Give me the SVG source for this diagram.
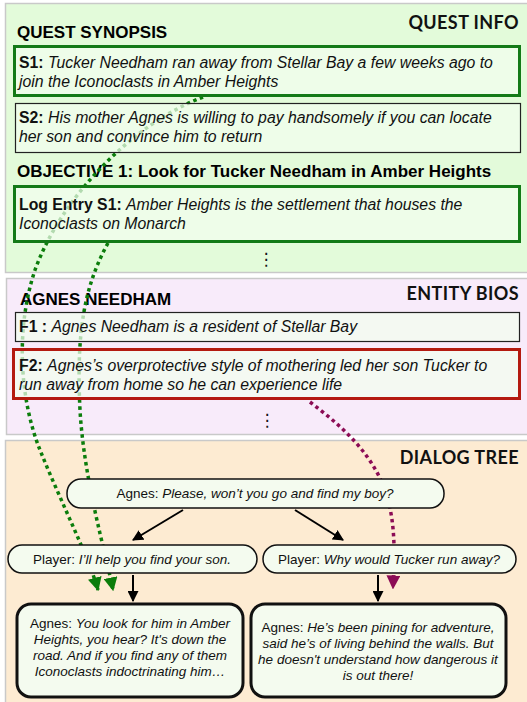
<svg xmlns="http://www.w3.org/2000/svg" width="527" height="702" viewBox="0 0 527 702">
<defs>
<style>
.panel{stroke:#c9c9c9;stroke-width:1.5}
.title{font-family:Lato,"Liberation Sans",sans-serif;font-size:18px;font-weight:bold;fill:#111;text-anchor:end;letter-spacing:0.4px}
.head{font-family:"Liberation Sans",Arial,sans-serif;font-size:17px;font-weight:bold;fill:#000}
.body{font-family:"Liberation Sans",Arial,sans-serif;font-size:15.8px;fill:#111}
.dlg{font-family:"Liberation Sans",Arial,sans-serif;font-size:13.5px;fill:#111;text-anchor:middle}
.b{font-weight:bold;font-style:normal}
.i{font-style:italic}
.box{fill:#f3fdef;fill-opacity:0.72}
.gbox{stroke:#137a17;stroke-width:3}
.kbox{stroke:#222;stroke-width:1.2}
.rbox{stroke:#b41a10;stroke-width:3}
.node{fill:#f4fbef;stroke:#111;stroke-width:1.5}
.bnode{fill:#f4fbef;stroke:#111;stroke-width:3}
.gdot{fill:none;stroke:#0b7d0b;stroke-width:3.5;stroke-dasharray:3.5 3.5}
.mdot{fill:none;stroke:#8c0c55;stroke-width:3.5;stroke-dasharray:3.5 3.5}
.arr{stroke:#000;stroke-width:2}
.dots{font-family:"DejaVu Sans",sans-serif;font-size:17px;fill:#111;text-anchor:middle}
</style>
<marker id="ak" viewBox="0 0 10 10" refX="9" refY="5" markerWidth="11" markerHeight="11" markerUnits="userSpaceOnUse" orient="auto"><path d="M0,0 L10,5 L0,10 z" fill="#000"/></marker>
<marker id="ag" viewBox="0 0 10 10" refX="9" refY="5" markerWidth="14" markerHeight="14" markerUnits="userSpaceOnUse" orient="auto"><path d="M0,0 L10,5 L0,10 z" fill="#0b7d0b"/></marker>
<marker id="am" viewBox="0 0 10 10" refX="9" refY="5" markerWidth="14" markerHeight="14" markerUnits="userSpaceOnUse" orient="auto"><path d="M0,0 L10,5 L0,10 z" fill="#8c0c55"/></marker>
</defs>

<g id="panel-quest-info">
<rect class="panel" x="5.5" y="3.5" width="525" height="269" fill="#e3fbda"/>
<text class="title" x="519" y="29">QUEST INFO</text>
<text class="head" x="17" y="38">QUEST SYNOPSIS</text>
<text class="head" x="17" y="177">OBJECTIVE 1: Look for Tucker Needham in Amber Heights</text>
</g>
<g id="panel-entity-bios">
<rect class="panel" x="6.5" y="278.5" width="525" height="156" fill="#f8ebfa"/>
<text class="title" x="519" y="300">ENTITY BIOS</text>
<text class="head" x="20" y="305">AGNES NEEDHAM</text>
</g>
<g id="panel-dialog-tree">
<rect class="panel" x="5.5" y="440.5" width="525" height="265" fill="#fdebd2"/>
<text class="title" x="519" y="464">DIALOG TREE</text>
</g>

<g id="connectors">
<path class="gdot" d="M203,97 C130,125 60,200 35,270 C15,330 20,400 40,450 C60,500 90,560 98,590" marker-end="url(#ag)"/>
<path class="gdot" d="M108,243 C85,285 76,330 80,410 C84,480 105,550 113,590" marker-end="url(#ag)"/>
<path class="mdot" d="M310,402 C340,425 370,450 385,490 C397,525 394,560 393,588" marker-end="url(#am)"/>
<line class="arr" x1="183" y1="510" x2="133" y2="540" marker-end="url(#ak)"/>
<line class="arr" x1="295" y1="510" x2="343" y2="540" marker-end="url(#ak)"/>
<line class="arr" x1="133" y1="575" x2="133" y2="601" marker-end="url(#ak)"/>
<line class="arr" x1="378" y1="575" x2="378" y2="601" marker-end="url(#ak)"/>
</g>

<g id="s1">
<rect class="box gbox" x="14.5" y="46.5" width="505" height="49"/>
<text class="body" x="19" y="68"><tspan class="b">S1: </tspan><tspan class="i">Tucker Needham ran away from Stellar Bay a few weeks ago to</tspan></text>
<text class="body i" x="19" y="87">join the Iconoclasts in Amber Heights</text>
</g>
<g id="s2">
<rect class="box kbox" x="15.5" y="103.5" width="505" height="49"/>
<text class="body" x="19" y="123"><tspan class="b">S2: </tspan><tspan class="i">His mother Agnes is willing to pay handsomely if you can locate</tspan></text>
<text class="body i" x="19" y="142">her son and convince him to return</text>
</g>
<g id="log-entry-s1">
<rect class="box gbox" x="14.5" y="186.5" width="505" height="55"/>
<text class="body" x="19" y="210"><tspan class="b">Log Entry S1: </tspan><tspan class="i">Amber Heights is the settlement that houses the</tspan></text>
<text class="body i" x="19" y="229">Iconoclasts on Monarch</text>
<text class="dots" x="266" y="265">⋮</text>
</g>
<g id="f1">
<rect class="box kbox" x="15.5" y="312.5" width="504" height="29"/>
<text class="body" x="19" y="332"><tspan class="b">F1 : </tspan><tspan class="i">Agnes Needham is a resident of Stellar Bay</tspan></text>
</g>
<g id="f2">
<rect class="box rbox" x="13.5" y="349.5" width="506" height="49"/>
<text class="body" x="19" y="371"><tspan class="b">F2: </tspan><tspan class="i">Agnes’s overprotective style of mothering led her son Tucker to</tspan></text>
<text class="body i" x="19" y="390">run away from home so he can experience life</text>
<text class="dots" x="267" y="426">⋮</text>
</g>

<g id="agnes-root">
<rect class="node" x="67" y="479" width="377" height="29" rx="14"/>
<text class="dlg" x="255" y="498">Agnes: <tspan class="i">Please, won’t you go and find my boy?</tspan></text>
</g>
<g id="player-help">
<rect class="node" x="8" y="545" width="249" height="28" rx="14"/>
<text class="dlg" x="132" y="564">Player: <tspan class="i">I’ll help you find your son.</tspan></text>
</g>
<g id="player-why">
<rect class="node" x="263" y="545" width="253" height="28" rx="14"/>
<text class="dlg" x="389" y="564">Player: <tspan class="i">Why would Tucker run away?</tspan></text>
</g>
<g id="agnes-look">
<rect class="bnode" x="17" y="604" width="226" height="93" rx="14"/>
<text class="dlg" x="130" y="628">Agnes: <tspan class="i">You look for him in Amber</tspan></text>
<text class="dlg i" x="130" y="644">Heights, you hear? It's down the</text>
<text class="dlg i" x="130" y="660">road. And if you find any of them</text>
<text class="dlg i" x="130" y="676">Iconoclasts indoctrinating him…</text>
</g>
<g id="agnes-pining">
<rect class="bnode" x="251" y="604" width="255" height="93" rx="14"/>
<text class="dlg" x="378" y="632">Agnes: <tspan class="i">He’s been pining for adventure,</tspan></text>
<text class="dlg i" x="378" y="648">said he’s of living behind the walls. But</text>
<text class="dlg i" x="378" y="664">he doesn't understand how dangerous it</text>
<text class="dlg i" x="378" y="680">is out there!</text>
</g>
</svg>
